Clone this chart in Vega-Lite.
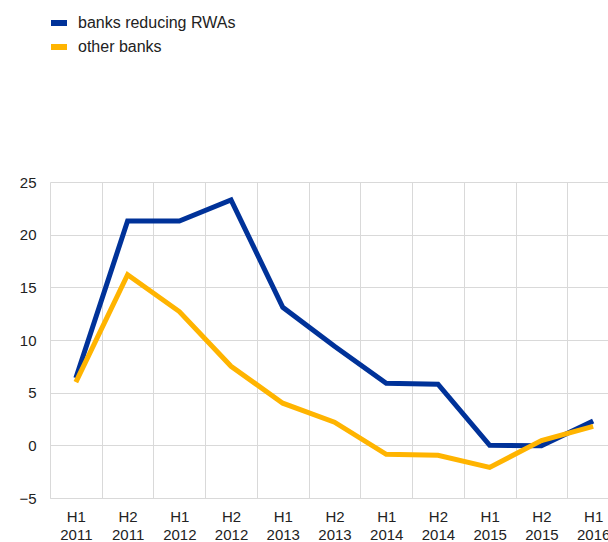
{
  "$schema": "https://vega.github.io/schema/vega-lite/v6.json",
  "autosize": "none",
  "width": 558,
  "height": 316,
  "padding": {"left": 50, "top": 182, "right": 0, "bottom": 44},
  "background": "white",
  "config": {
    "font": "Liberation Sans",
    "view": {"stroke": null}
  },
  "data": {
    "values": [
      {"period": "H1 2011", "series": "banks reducing RWAs", "value": 6.4},
      {"period": "H2 2011", "series": "banks reducing RWAs", "value": 21.3},
      {"period": "H1 2012", "series": "banks reducing RWAs", "value": 21.3},
      {"period": "H2 2012", "series": "banks reducing RWAs", "value": 23.3},
      {"period": "H1 2013", "series": "banks reducing RWAs", "value": 13.1},
      {"period": "H2 2013", "series": "banks reducing RWAs", "value": 9.4},
      {"period": "H1 2014", "series": "banks reducing RWAs", "value": 5.9},
      {"period": "H2 2014", "series": "banks reducing RWAs", "value": 5.8},
      {"period": "H1 2015", "series": "banks reducing RWAs", "value": 0.0},
      {"period": "H2 2015", "series": "banks reducing RWAs", "value": -0.05},
      {"period": "H1 2016", "series": "banks reducing RWAs", "value": 2.3},
      {"period": "H1 2011", "series": "other banks", "value": 6.0},
      {"period": "H2 2011", "series": "other banks", "value": 16.2},
      {"period": "H1 2012", "series": "other banks", "value": 12.7},
      {"period": "H2 2012", "series": "other banks", "value": 7.5},
      {"period": "H1 2013", "series": "other banks", "value": 4.0},
      {"period": "H2 2013", "series": "other banks", "value": 2.2},
      {"period": "H1 2014", "series": "other banks", "value": -0.85},
      {"period": "H2 2014", "series": "other banks", "value": -0.95},
      {"period": "H1 2015", "series": "other banks", "value": -2.1},
      {"period": "H2 2015", "series": "other banks", "value": 0.45},
      {"period": "H1 2016", "series": "other banks", "value": 1.8}
    ]
  },
  "mark": {"type": "line", "strokeWidth": 5, "strokeJoin": "miter"},
  "encoding": {
    "x": {
      "field": "period",
      "type": "ordinal",
      "sort": null,
      "bandPosition": 0.5,
      "scale": {"type": "band", "range": [0, 569], "paddingInner": 0, "paddingOuter": 0},
      "axis": {
        "title": null,
        "tickBand": "extent",
        "grid": true,
        "gridColor": "#d9d9d9",
        "gridWidth": 1,
        "domainColor": "#d9d9d9",
        "ticks": false,
        "labelAngle": 0,
        "labelExpr": "split(datum.label, ' ')",
        "labelFontSize": 15,
        "labelColor": "#222222",
        "labelPadding": 11,
        "labelLineHeight": 18
      }
    },
    "y": {
      "field": "value",
      "type": "quantitative",
      "scale": {"domain": [-5, 25], "nice": false, "zero": false},
      "axis": {
        "title": null,
        "values": [-5, 0, 5, 10, 15, 20, 25],
        "grid": true,
        "gridColor": "#d9d9d9",
        "domain": false,
        "ticks": false,
        "labelFontSize": 15,
        "labelColor": "#222222",
        "labelPadding": 14
      }
    },
    "color": {
      "field": "series",
      "type": "nominal",
      "scale": {"domain": ["banks reducing RWAs", "other banks"], "range": ["#003299", "#ffb400"]},
      "legend": {
        "title": null,
        "orient": "none",
        "legendX": -2,
        "legendY": -170,
        "symbolType": "M-1,0H1",
        "symbolSize": 256,
        "symbolStrokeWidth": 6,
        "labelFontSize": 16,
        "labelColor": "#222222",
        "rowPadding": 0,
        "labelOffset": 8
      }
    }
  }
}
